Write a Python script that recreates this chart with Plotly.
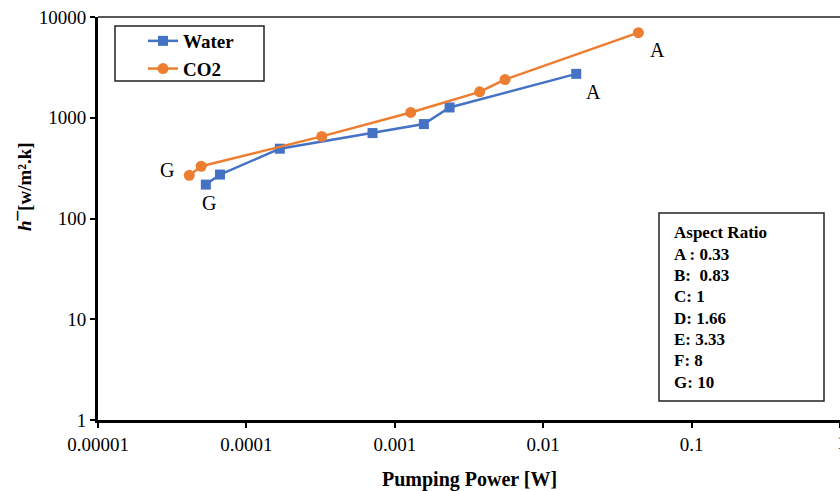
import plotly.graph_objects as go

# ---- data ----
water_power = [5.33e-5, 6.64e-5, 1.68e-4, 7.08e-4, 1.57e-3, 2.34e-3, 0.0167]
water_h = [217, 273, 493, 705, 866, 1265, 2727]
co2_power = [4.12e-5, 4.96e-5, 3.22e-4, 1.28e-3, 3.73e-3, 5.53e-3, 0.0438]
co2_h = [268, 330, 653, 1128, 1808, 2396, 6995]

x_tickvals = [1e-5, 1e-4, 1e-3, 1e-2, 1e-1, 1]
x_ticktext = ["0.00001", "0.0001", "0.001", "0.01", "0.1", "1"]
y_tickvals = [1, 10, 100, 1000, 10000]
y_ticktext = ["1", "10", "100", "1000", "10000"]

aspect_lines = ["Aspect Ratio", "A : 0.33", "B:\u00a0 0.83", "C: 1", "D: 1.66",
                "E: 3.33", "F: 8", "G: 10"]

BLUE = "#4472C4"
ORANGE = "#ED7D31"
SERIF = "Liberation Serif, Times New Roman, serif"

fig = go.Figure()
fig.add_trace(go.Scatter(x=water_power, y=water_h, name="<b>Water</b>", mode="lines+markers",
                         line=dict(color=BLUE, width=2.5),
                         marker=dict(symbol="square", size=10, color=BLUE)))
fig.add_trace(go.Scatter(x=co2_power, y=co2_h, name="<b>CO2</b>", mode="lines+markers",
                         line=dict(color=ORANGE, width=2.5),
                         marker=dict(symbol="circle", size=11, color=ORANGE)))

W, H = 840, 491
L, R, T, B = 98, 0, 17, 71
pw, ph = W - L - R, H - T - B

def px(xp):
    return (xp - L) / pw

def py(yp):
    return 1 - (yp - T) / ph

def label(xp, yp, text, size, **kw):
    d = dict(x=px(xp), y=py(yp), xref="paper", yref="paper", text=text,
             showarrow=False, xanchor="center", yanchor="middle",
             font=dict(family=SERIF, size=size, color="black"))
    d.update(kw)
    return d

annotations = [
    label(167, 170, "G", 20),
    label(209, 203, "G", 20),
    label(657, 50, "A", 20),
    label(593, 92, "A", 20),
    label(842, 442, x_ticktext[-1], 19),  # last tick label, cut by the page edge
]
for i, t in enumerate(aspect_lines):
    annotations.append(label(672, 233 + i * 21.3, "<b>" + t + "</b>", 17, xanchor="left"))
annotations.append(label(24, 187, "<b><i>h</i>¯[w/m².k]</b>", 19, textangle=-90))
annotations.append(label(469, 479, "<b>Pumping Power [W]</b>", 20))

shapes = [
    dict(type="line", xref="paper", yref="paper", x0=0, x1=1, y0=1, y1=1,
         line=dict(color="#222", width=1.5)),
    dict(type="rect", xref="paper", yref="paper", x0=px(659), x1=px(824),
         y0=py(401), y1=py(213), line=dict(color="#222", width=1.5),
         fillcolor="white", layer="below"),
    dict(type="rect", xref="paper", yref="paper", x0=px(115), x1=px(264),
         y0=py(81), y1=py(26), line=dict(color="#222", width=1.5)),
]

axis_common = dict(type="log", showgrid=False, zeroline=False, showline=True,
                   linecolor="black", linewidth=3, ticks="outside", ticklen=5,
                   tickwidth=2, tickcolor="black", automargin=False,
                   tickfont=dict(family=SERIF, size=19, color="black"))

fig.update_layout(
    width=W, height=H,
    margin=dict(l=L, r=R, t=T, b=B),
    paper_bgcolor="white", plot_bgcolor="white",
    font=dict(family=SERIF, size=17, color="black"),
    showlegend=True,
    legend=dict(x=px(143), y=py(22), xanchor="left", yanchor="top",
                bgcolor="rgba(0,0,0,0)", borderwidth=0,
                font=dict(family=SERIF, size=19, color="black"),
                tracegroupgap=0),
    annotations=annotations,
    shapes=shapes,
    xaxis=dict(range=[-5, 0], tickvals=x_tickvals, ticktext=x_ticktext, **axis_common),
    yaxis=dict(range=[0, 4], tickvals=y_tickvals, ticktext=y_ticktext, **axis_common),
)

fig.write_html("out.html")
